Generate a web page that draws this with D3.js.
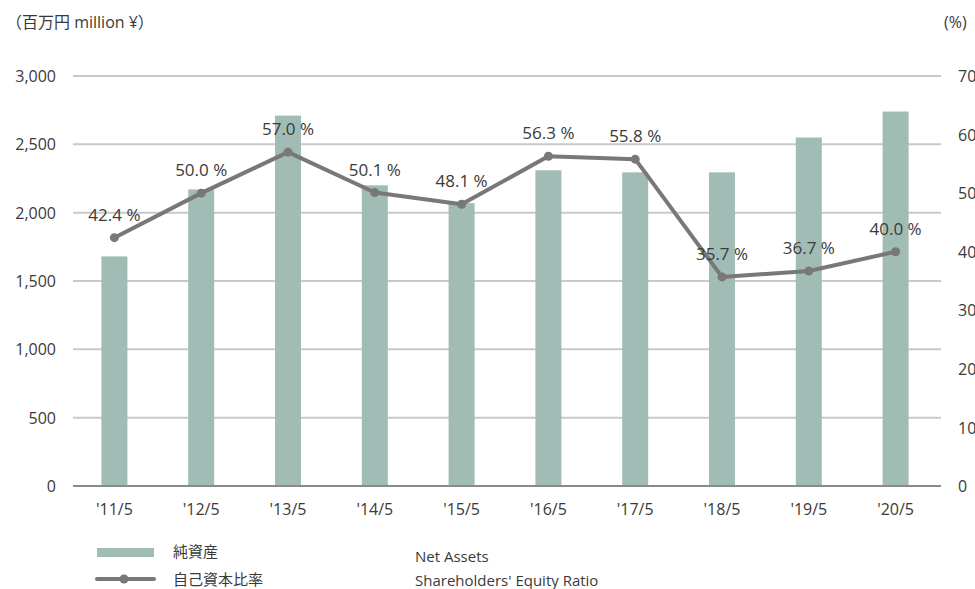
<!DOCTYPE html>
<html>
<head>
<meta charset="utf-8">
<script src="https://cdn.jsdelivr.net/npm/d3@7"></script>
<style>
  body { margin: 0; background: #fff; }
  svg { display: block; }
  text { font-family: "Open Sans", "Noto Sans CJK JP", sans-serif; fill: #3a3a3a; }
</style>
</head>
<body>
<svg id="chart" width="975" height="589"></svg>
<script>
const categories = ["'11/5", "'12/5", "'13/5", "'14/5", "'15/5", "'16/5", "'17/5", "'18/5", "'19/5", "'20/5"];
const netAssets = [1680, 2170, 2710, 2200, 2070, 2310, 2295, 2295, 2550, 2740];
const equityRatio = [42.4, 50.0, 57.0, 50.1, 48.1, 56.3, 55.8, 35.7, 36.7, 40.0];
const leftTicks = [0, 500, 1000, 1500, 2000, 2500, 3000];
const rightTicks = [0, 10, 20, 30, 40, 50, 60, 70];

const svg = d3.select("#chart");
const plotTop = 76, plotBottom = 486, gridL = 73, gridR = 941;

const x = d3.scaleBand().domain(categories).range([71, 939]).paddingInner(0.7).paddingOuter(0.35);
const yL = d3.scaleLinear().domain([0, 3000]).range([plotBottom, plotTop]);
const yR = d3.scaleLinear().domain([0, 70]).range([plotBottom, plotTop]);

// gridlines
svg.append("g").selectAll("line").data(leftTicks).join("line")
  .attr("x1", gridL).attr("x2", gridR)
  .attr("y1", d => yL(d)).attr("y2", d => yL(d))
  .attr("stroke", d => d === 0 ? "#8a8a8a" : "#c9c9c9").attr("stroke-width", 2);

// left axis
const axL = svg.append("g").attr("transform", `translate(56,0)`)
  .call(d3.axisLeft(yL).tickValues(leftTicks).tickFormat(d3.format(",")).tickSize(0).tickPadding(0));
axL.select(".domain").remove();
axL.selectAll("text").attr("font-size", 16).attr("dy", "0.35em");

// right axis
const axR = svg.append("g").attr("transform", `translate(958,0)`)
  .call(d3.axisRight(yR).tickValues(rightTicks).tickSize(0).tickPadding(0));
axR.select(".domain").remove();
axR.selectAll("text").attr("font-size", 16).attr("dy", "0.35em");

// x axis
const axB = svg.append("g").attr("transform", `translate(0,${plotBottom})`)
  .call(d3.axisBottom(x).tickSize(0).tickPadding(0));
axB.select(".domain").remove();
axB.selectAll("text").attr("font-size", 16).attr("dy", "1.8em");

// bars
const bw = 26;
svg.append("g").selectAll("rect").data(netAssets).join("rect")
  .attr("x", (d, i) => x(categories[i]) + x.bandwidth() / 2 - bw / 2)
  .attr("width", bw)
  .attr("y", d => yL(d))
  .attr("height", d => plotBottom - 1 - yL(d))
  .attr("fill", "#a1bcb4");

// line
const cx = i => x(categories[i]) + x.bandwidth() / 2;
const line = d3.line().x((d, i) => cx(i)).y(d => yR(d));
svg.append("path").datum(equityRatio).attr("d", line)
  .attr("fill", "none").attr("stroke", "#787878").attr("stroke-width", 4).attr("stroke-linejoin", "round");
svg.append("g").selectAll("circle").data(equityRatio).join("circle")
  .attr("cx", (d, i) => cx(i)).attr("cy", d => yR(d)).attr("r", 4.5).attr("fill", "#787878");

// labels
svg.append("g").selectAll("text").data(equityRatio).join("text")
  .attr("x", (d, i) => cx(i)).attr("y", d => yR(d) - 17)
  .attr("text-anchor", "middle").attr("font-size", 17)
  .text(d => d3.format(".1f")(d) + " %");

// units
svg.append("text").attr("x", 6).attr("y", 28).attr("font-size", 16).text("（百万円  million ¥）");
svg.append("text").attr("x", 944).attr("y", 28).attr("font-size", 16).text("(%)");

// legend
svg.append("rect").attr("x", 97).attr("y", 548).attr("width", 57).attr("height", 9).attr("fill", "#a1bcb4");
svg.append("line").attr("x1", 97).attr("x2", 154).attr("y1", 579).attr("y2", 579)
  .attr("stroke", "#787878").attr("stroke-width", 4).attr("stroke-linecap", "round");
svg.append("circle").attr("cx", 124).attr("cy", 579).attr("r", 4.5).attr("fill", "#787878");
svg.append("text").attr("x", 173).attr("y", 557).attr("font-size", 15).text("純資産");
svg.append("text").attr("x", 173).attr("y", 585).attr("font-size", 15).text("自己資本比率");
svg.append("text").attr("x", 415).attr("y", 562).attr("font-size", 15).text("Net Assets");
svg.append("text").attr("x", 415).attr("y", 586).attr("font-size", 15).text("Shareholders' Equity  Ratio");
</script>
</body>
</html>
